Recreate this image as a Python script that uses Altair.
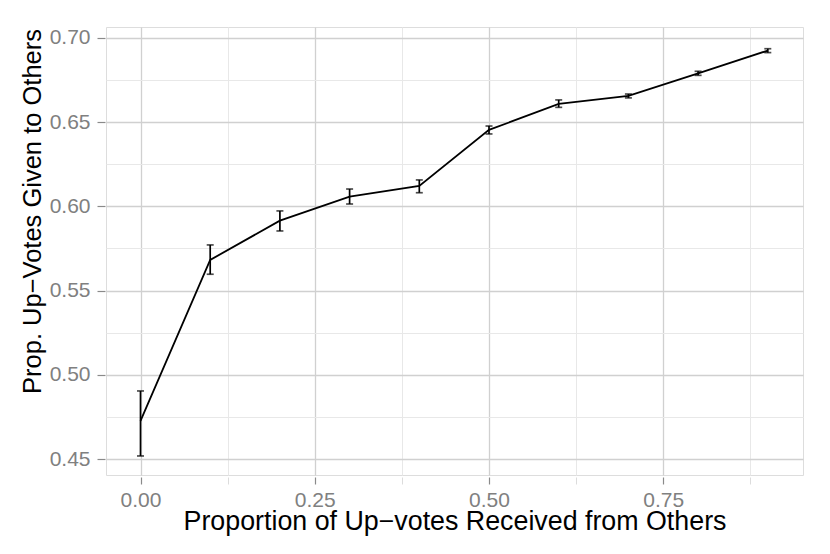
import altair as alt
import pandas as pd

# data
received = [0.0, 0.1, 0.2, 0.3, 0.4, 0.5, 0.6, 0.7, 0.8, 0.9]
given = [0.4726, 0.5682, 0.5915, 0.6058, 0.6121, 0.6454, 0.6608, 0.6656, 0.6790, 0.6925]
lower = [0.4518, 0.5597, 0.5854, 0.6014, 0.6081, 0.6430, 0.6588, 0.6644, 0.6778, 0.6913]
upper = [0.4904, 0.5771, 0.5973, 0.6103, 0.6157, 0.6477, 0.6632, 0.6667, 0.6802, 0.6936]

x_major = [0.0, 0.25, 0.5, 0.75]
x_minor = [0.125, 0.375, 0.625, 0.875]
y_major = [0.45, 0.50, 0.55, 0.60, 0.65, 0.70]
y_minor = [0.475, 0.525, 0.575, 0.625, 0.675]

df = pd.DataFrame({"x": received, "y": given, "lo": lower, "hi": upper})

FONT = "Liberation Sans"
xs = alt.Scale(domain=[-0.0495, 0.9505], nice=False, zero=False)
ys = alt.Scale(domain=[0.4405, 0.7065], nice=False, zero=False)

x_axis_major = alt.Axis(
    orient="bottom", values=x_major, format=".2f", grid=True, gridColor="#d0d0d0",
    gridWidth=1.3, domain=False, ticks=True, tickSize=7, offset=2, tickColor="#8a8a8a",
    tickWidth=1.2, labelFont=FONT, labelFontSize=21, labelColor="#808080", labelPadding=5,
    title="Proportion of Up\u2212votes Received from Others", titleFont=FONT,
    titleFontSize=26.8, titleFontWeight="normal", titleColor="black",
    titleBaseline="alphabetic", titleY=52,
)
y_axis_major = alt.Axis(
    orient="left", values=y_major, format=".2f", grid=True, gridColor="#d0d0d0",
    gridWidth=1.3, domain=False, ticks=True, tickSize=8, offset=1, tickColor="#8a8a8a",
    tickWidth=1.2, labelFont=FONT, labelFontSize=21, labelColor="#808080", labelPadding=7,
    title="Prop. Up\u2212Votes Given to Others", titleFont=FONT, titleFontSize=25.5,
    titleFontWeight="normal", titleColor="black", titleBaseline="alphabetic", titleX=-65,
    titleY=184,
)
x_axis_minor = alt.Axis(
    orient="bottom", values=x_minor, grid=True, gridColor="#e8e8e8", gridWidth=1.0,
    domain=False, labels=False, ticks=True, tickSize=7, offset=2, tickColor="#dcdcdc",
    tickWidth=1.0, title=None,
)
y_axis_minor = alt.Axis(
    orient="left", values=y_minor, grid=True, gridColor="#e8e8e8", gridWidth=1.0,
    domain=False, labels=False, ticks=False, title=None,
)

minor = alt.Chart(df).mark_line(opacity=0).encode(
    x=alt.X("x:Q", scale=xs, axis=x_axis_minor),
    y=alt.Y("y:Q", scale=ys, axis=y_axis_minor),
)
line = alt.Chart(df).mark_line(color="black", strokeWidth=1.8).encode(
    x=alt.X("x:Q", scale=xs, axis=x_axis_major),
    y=alt.Y("y:Q", scale=ys, axis=y_axis_major),
)
bars = alt.Chart(df).mark_rule(color="black", strokeWidth=1.7).encode(
    x=alt.X("x:Q", axis=None), y=alt.Y("lo:Q", axis=None), y2="hi:Q"
)
cap_lo = alt.Chart(df).mark_tick(color="black", orient="horizontal", size=7, thickness=1.7).encode(
    x=alt.X("x:Q", axis=None), y=alt.Y("lo:Q", axis=None)
)
cap_hi = alt.Chart(df).mark_tick(color="black", orient="horizontal", size=7, thickness=1.7).encode(
    x=alt.X("x:Q", axis=None), y=alt.Y("hi:Q", axis=None)
)

chart = (
    alt.layer(minor, line, bars, cap_lo, cap_hi)
    .resolve_axis(x="independent", y="independent")
    .properties(
        width=697, height=448,
        autosize=alt.AutoSizeParams(type="none"),
        padding={"left": 98, "top": 19, "right": 19, "bottom": 71},
    )
    .configure_view(stroke=None)
    .configure(background="white")
)

chart.save("out.html", embed_options={"renderer": "svg", "actions": False})
